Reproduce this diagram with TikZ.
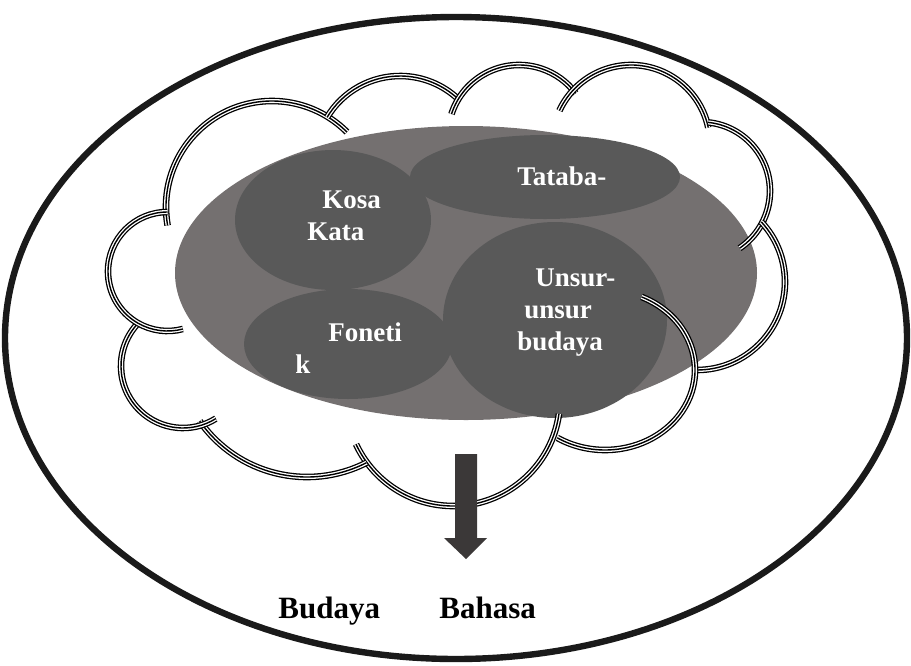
\documentclass[tikz,border=0pt]{standalone}
\usepackage{fontspec}
\setmainfont{Liberation Serif}
\usepackage{xcolor}
\usepackage{tikz}
\definecolor{cloudgrey}{HTML}{747070}
\definecolor{blobgrey}{HTML}{595959}
\definecolor{arrowgrey}{HTML}{3B3838}
\definecolor{rimblack}{HTML}{1A1A1A}
\tikzset{
    cloudline/.style={draw=white, line width=2pt, preaction={draw=black, line width=3.3pt}, postaction={draw=black, line width=0.7pt}},
    blob/.style={fill=blobgrey},
    inlabel/.style={text=white, font=\fontsize{13.5}{15}\selectfont\bfseries, anchor=base west, inner sep=0pt},
    outlabel/.style={font=\fontsize{15.5}{18}\selectfont\bfseries, anchor=base west, inner sep=0pt}
}

\begin{document}
\begin{tikzpicture}[x=0.5pt, y=-0.5pt]
    \useasboundingbox (0,0) rectangle (911,665);
    % Outer ellipse
    \draw[rimblack, line width=3.2pt] (456,338) ellipse [x radius=451, y radius=321];
    % Grey base and the four parts
    \fill[cloudgrey] (466,273) ellipse [x radius=291, y radius=147];
    \fill[blob] (333,220) ellipse [x radius=98, y radius=70];
    \fill[blob] (545,177) ellipse [x radius=135, y radius=42];
    \fill[blob] (348,344) ellipse [x radius=104, y radius=55];
    \fill[blob] (555,320) ellipse [x radius=112, y radius=98];
    % Cloud
    \foreach \cx/\cy/\r/\a/\b in {272/207/106/-190/-45, 400/161/85/-149/-47,
        519/136/71/-162/-37, 631/144/79/-155/-12, 701/191/69/-84/56,
        697/282/88/-43/93, 453/399/107/8/155, 307/346/131/145/63,
        183/366/62/-136/-302, 167.5/271.5/59.5/-90/-285}
        \draw[cloudline] ([shift={(\a:\r)}]\cx,\cy) arc[start angle=\a, end angle=\b, radius=\r];
    \draw[cloudline] ([shift={(-66:90 and 80)}]605,370) arc[start angle=-66, end angle=122, x radius=90, y radius=80];
    % Arrow
    \fill[arrowgrey] (455,454) -- (477,454) -- (477,538) -- (487,538) -- (466,559)
        -- (444,538) -- (455,538) -- cycle;
    % Labels
    \node[inlabel] (kosa) at (322,208) {Kosa};
    \node[inlabel] (kata) at (307,240) {Kata};
    \node[inlabel] (tataba) at (517,185) {Tataba-};
    \node[inlabel] (foneti) at (328,341) {Foneti};
    \node[inlabel] (fonetik) at (295,373) {k};
    \node[inlabel] (unsur) at (535,286) {Unsur-};
    \node[inlabel] (unsurb) at (524,318) {unsur};
    \node[inlabel] (budayain) at (517,350) {budaya};
    \node[outlabel] (budaya) at (278,618) {Budaya};
    \node[outlabel] (bahasa) at (439,618) {Bahasa};
\end{tikzpicture}
\end{document}
